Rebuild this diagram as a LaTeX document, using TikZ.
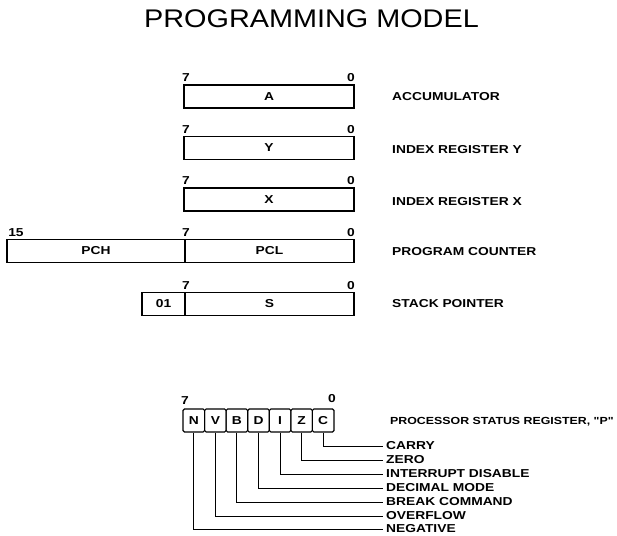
\documentclass[tikz,border=0pt]{standalone}
\usepackage{fontspec}
\newfontfamily\labelfont{Liberation Sans}[FakeStretch=1.2]
\newfontfamily\titlefont{Liberation Sans}[FakeStretch=1.13]
\usetikzlibrary{positioning}

\begin{document}
\begin{tikzpicture}[
  x=1pt,y=-1pt,
  reg/.style={rectangle,draw,line width=1.1pt,minimum height=23pt,inner sep=0pt,
        font=\labelfont\bfseries\fontsize{11.5}{13}\selectfont},
  bitno/.style={anchor=south,inner sep=0pt,font=\labelfont\bfseries\fontsize{11.5}{13}\selectfont},
  regname/.style={anchor=west,inner sep=0pt,font=\labelfont\bfseries\fontsize{11.5}{13}\selectfont},
  flag/.style={rectangle,draw,line width=1.1pt,rounded corners=1.5pt,minimum width=21.57pt,
        minimum height=23pt,inner sep=0pt,font=\labelfont\bfseries\fontsize{11.5}{13}\selectfont},
  flagname/.style={anchor=west,inner sep=0pt,font=\labelfont\bfseries\fontsize{11.5}{13}\selectfont},
  wire/.style={line width=0.9pt}
]
\useasboundingbox (0,0) rectangle (617,535);
\node[font=\titlefont\fontsize{25.5}{30}\selectfont] (title) at (311.5,19) {PROGRAMMING MODEL};
% registers
\node[reg,minimum width=170pt] (acc) at (269,96.5) {A};
\node[bitno] (acc7) at (186,82) {7};
\node[bitno] (acc0) at (351,82) {0};
\node[regname] (accname) at (392,97) {ACCUMULATOR};
\node[reg,minimum width=170pt] (iy) at (269,148) {Y};
\node[bitno] (iy7) at (186,133.5) {7};
\node[bitno] (iy0) at (351,133.5) {0};
\node[regname] (iyname) at (392,150) {INDEX REGISTER Y};
\node[reg,minimum width=170pt] (ix) at (269,199.5) {X};
\node[bitno] (ix7) at (186,185) {7};
\node[bitno] (ix0) at (351,185) {0};
\node[regname] (ixname) at (392,201.5) {INDEX REGISTER X};
\node[reg,minimum width=178pt] (pch) at (96,251) {PCH};
\node[reg,minimum width=169pt] (pcl) at (269.5,251) {PCL};
\node[bitno] (pc15) at (16,236.5) {15};
\node[bitno] (pc7) at (186,236.5) {7};
\node[bitno] (pc0) at (351,236.5) {0};
\node[regname] (pcname) at (392,252) {PROGRAM COUNTER};
\node[reg,minimum width=43pt] (sph) at (163.5,304) {01};
\node[reg,minimum width=169pt] (sp) at (269.5,304) {S};
\node[bitno] (sp7) at (186,289.5) {7};
\node[bitno] (sp0) at (351,289.5) {0};
\node[regname] (spname) at (392,304) {STACK POINTER};
% status register
\node[flag] (n) at (193.8,420.5) {N};
\node[flag] (v) at (215.4,420.5) {V};
\node[flag] (b) at (236.9,420.5) {B};
\node[flag] (d) at (258.5,420.5) {D};
\node[flag] (i) at (280.1,420.5) {I};
\node[flag] (z) at (301.6,420.5) {Z};
\node[flag] (c) at (323.2,420.5) {C};
\node[bitno] (p7) at (185,405) {7};
\node[bitno] (p0) at (332,403) {0};
\node[flagname,font=\labelfont\bfseries\fontsize{10.3}{12}\selectfont] (pname) at (390,422) {PROCESSOR STATUS REGISTER, "P"};
\node[flagname] (carry) at (386,446) {CARRY};
\node[flagname] (zero) at (386,460) {ZERO};
\node[flagname] (irq) at (386,474) {INTERRUPT DISABLE};
\node[flagname] (dec) at (386,488) {DECIMAL MODE};
\node[flagname] (brk) at (386,502) {BREAK COMMAND};
\node[flagname] (ovf) at (386,516) {OVERFLOW};
\node[flagname] (neg) at (386,529) {NEGATIVE};
\draw[wire] (c.south) |- ([xshift=-3pt]carry.west);
\draw[wire] (z.south) |- ([xshift=-3pt]zero.west);
\draw[wire] (i.south) |- ([xshift=-3pt]irq.west);
\draw[wire] (d.south) |- ([xshift=-3pt]dec.west);
\draw[wire] (b.south) |- ([xshift=-3pt]brk.west);
\draw[wire] (v.south) |- ([xshift=-3pt]ovf.west);
\draw[wire] (n.south) |- ([xshift=-3pt]neg.west);
\end{tikzpicture}
\end{document}
